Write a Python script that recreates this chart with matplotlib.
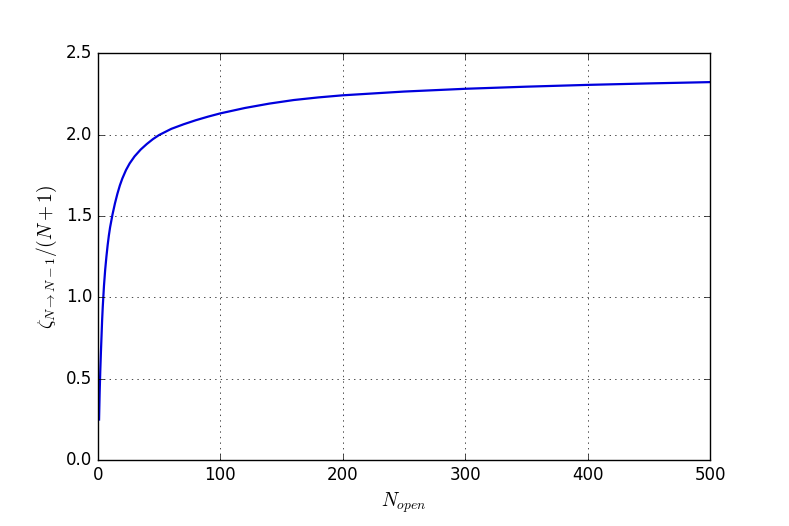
import matplotlib
matplotlib.use('Agg')
import matplotlib.pyplot as plt

# values
n_open = [1, 1.5, 2, 2.5, 3, 3.5, 4, 5, 6, 7, 8, 9, 10, 11, 12, 14, 16, 18,
          20, 23, 26, 30, 35, 40, 45, 50, 60, 70, 80, 90, 100, 120, 140, 160,
          180, 200, 250, 300, 350, 400, 450, 500]
zeta_ratio = [0.25, 0.42, 0.55, 0.66, 0.76, 0.86, 0.94, 1.07, 1.17, 1.25,
              1.32, 1.38, 1.43, 1.47, 1.51, 1.578, 1.637, 1.688, 1.73, 1.782,
              1.823, 1.866, 1.908, 1.942, 1.972, 1.997, 2.035, 2.063, 2.088,
              2.11, 2.13, 2.163, 2.19, 2.212, 2.228, 2.241, 2.264, 2.281,
              2.294, 2.305, 2.314, 2.322]

plt.style.use('classic')
plt.rcParams['mathtext.fontset'] = 'cm'

fig = plt.figure(figsize=(7.89, 5.26), dpi=100, facecolor='white')
ax = fig.add_axes([0.124, 0.125, 0.776, 0.774])

ax.plot(n_open, zeta_ratio, color='#0000dd', linewidth=1.6)

ax.set_xlim(0, 500)
ax.set_ylim(0, 2.5)
ax.set_xticks([0, 100, 200, 300, 400, 500])
ax.set_yticks([0.0, 0.5, 1.0, 1.5, 2.0, 2.5])
ax.set_yticklabels(['0.0', '0.5', '1.0', '1.5', '2.0', '2.5'])
ax.tick_params(labelsize=12)
ax.grid(True)

ax.set_xlabel(r'$N_{open}$', fontsize=14)
ax.set_ylabel(r'$\zeta_{N\rightarrow N-1}/(N+1)$', fontsize=14)

fig.savefig('out.png', dpi=100, facecolor='white')
